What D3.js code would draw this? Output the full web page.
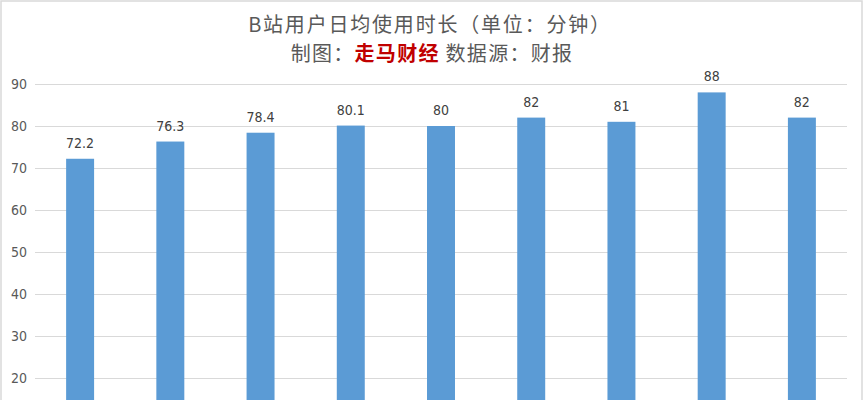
<!DOCTYPE html>
<html>
<head>
<meta charset="utf-8">
<script src="https://cdn.jsdelivr.net/npm/d3@7"></script>
<style>
  html, body { margin: 0; padding: 0; background: #fff; }
  svg { display: block; }
</style>
</head>
<body>
<svg id="chart"></svg>
<script>
// Data (category labels are cut off below the frame)
const periods = ['P1', 'P2', 'P3', 'P4', 'P5', 'P6', 'P7', 'P8', 'P9'];
const minutes = [72.2, 76.3, 78.4, 80.1, 80, 82, 81, 88, 82];
// only the ticks that fall inside the visible frame
const yTicks = [20, 30, 40, 50, 60, 70, 80, 90];

const W = 865, H = 400;
const margin = { top: 84, left: 35, right: 18 };
const plotBottom = 462; // zero line sits below the visible frame

const svg = d3.select('#chart')
  .attr('width', W)
  .attr('height', H);

// Outer frame
svg.append('rect')
  .attr('x', 1).attr('y', 1)
  .attr('width', W - 4).attr('height', H + 10)
  .attr('fill', '#fff')
  .attr('stroke', '#d9d9d9')
  .attr('stroke-width', 1.5);

const x = d3.scaleBand()
  .domain(periods)
  .range([margin.left, W - margin.right])
  .paddingInner(0.69)
  .paddingOuter(0.345);

const y = d3.scaleLinear()
  .domain([0, 90])
  .range([plotBottom, margin.top]);

// Grid lines
svg.append('g')
  .attr('class', 'grid')
  .attr('transform', `translate(${margin.left},0)`)
  .call(d3.axisRight(y)
    .tickValues(yTicks)
    .tickSize(W - margin.right - margin.left)
    .tickFormat(''))
  .call(g => g.select('.domain').remove())
  .call(g => g.selectAll('line').attr('stroke', '#d9d9d9').attr('stroke-width', 1));

// Y axis labels
svg.append('g')
  .attr('class', 'axis y-axis')
  .attr('transform', `translate(${margin.left - 8},0)`)
  .call(d3.axisLeft(y).tickValues(yTicks).tickSize(0))
  .call(g => g.select('.domain').remove())
  .call(g => g.selectAll('text')
    .attr('x', 0)
    .style('font-family', '"Liberation Sans Narrow", "DejaVu Sans Condensed", "Liberation Sans", sans-serif')
    .style('font-size', '14px')
    .style('fill', '#595959'));

// Bars
svg.selectAll('.bar')
  .data(minutes)
  .enter()
  .append('rect')
  .attr('class', 'bar')
  .attr('x', (d, i) => x(periods[i]))
  .attr('width', x.bandwidth())
  .attr('y', d => y(d))
  .attr('height', d => y(0) - y(d))
  .attr('fill', '#5b9bd5');

// Value labels
svg.selectAll('.value-label')
  .data(minutes)
  .enter()
  .append('text')
  .attr('class', 'value-label')
  .attr('x', (d, i) => x(periods[i]) + x.bandwidth() / 2)
  .attr('y', d => y(d) - 11)
  .attr('text-anchor', 'middle')
  .text(d => d)
  .style('font-family', '"Liberation Sans Narrow", "DejaVu Sans Condensed", "Liberation Sans", sans-serif')
  .style('font-size', '14px')
  .style('fill', '#404040');

// Title
const title = svg.append('g')
  .style('font-family', '"Noto Sans CJK SC", sans-serif')
  .style('font-size', '20px')
  .attr('text-anchor', 'middle');

title.append('text')
  .attr('x', 430)
  .attr('y', 32)
  .style('fill', '#595959')
  .style('letter-spacing', '1.8px')
  .text('B站用户日均使用时长（单位：分钟）');

const sub = title.append('text')
  .attr('x', 432)
  .attr('y', 61)
  .style('fill', '#595959')
  .style('letter-spacing', '1.3px');
sub.append('tspan').text('制图：');
sub.append('tspan').style('fill', '#c00000').style('font-weight', 'bold').text('走马财经');
sub.append('tspan').text('\u00a0数据源：财报');
</script>
</body>
</html>
